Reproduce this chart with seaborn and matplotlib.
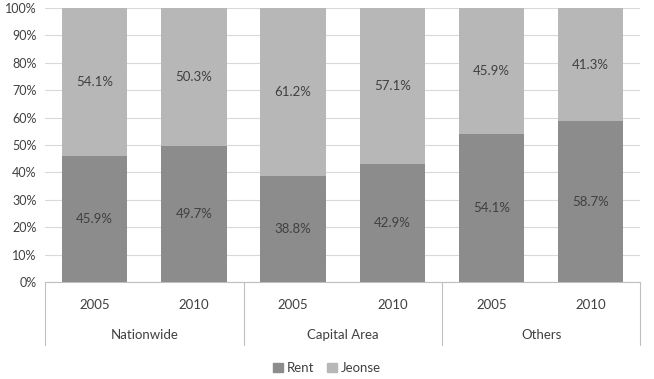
import pandas as pd
import seaborn as sb
import matplotlib.pyplot as plt
from matplotlib.patches import Patch

# data
aGroups = ["Nationwide", "Capital Area", "Others"]
aYears = ["2005", "2010"]
aRent = [45.9, 49.7, 38.8, 42.9, 54.1, 58.7]
aJeonse = [54.1, 50.3, 61.2, 57.1, 45.9, 41.3]

sRentColor = "#8c8c8c"
sJeonseColor = "#b7b7b7"
sTextColor = "#404040"

oData = pd.DataFrame({
    "group": [g for g in aGroups for _ in aYears],
    "year": aYears * len(aGroups),
    "rent": aRent,
    "jeonse": aJeonse,
})
oData["key"] = oData["group"] + " " + oData["year"]
oData["total"] = oData["rent"] + oData["jeonse"]

sb.set_style("white")
plt.rcParams["font.family"] = ["Lato", "DejaVu Sans"]

oFig = plt.figure(figsize=(6.54, 3.79), dpi=100)
oAx = oFig.add_axes([0.069, 0.256, 0.91, 0.723])

# stacked bars: full height in jeonse colour, rent drawn over it
sb.barplot(data=oData, x="key", y="total", color=sJeonseColor, width=0.66,
           saturation=1, linewidth=0, ax=oAx, zorder=2)
sb.barplot(data=oData, x="key", y="rent", color=sRentColor, width=0.66,
           saturation=1, linewidth=0, ax=oAx, zorder=3)

for i, oRow in oData.iterrows():
    oAx.text(i, oRow["rent"] / 2, f"{oRow['rent']:.1f}%", ha="center",
             va="center", fontsize=9.5, color=sTextColor, zorder=4)
    oAx.text(i, oRow["rent"] + oRow["jeonse"] / 2, f"{oRow['jeonse']:.1f}%",
             ha="center", va="center", fontsize=9.5, color=sTextColor, zorder=4)

oAx.set_ylim(0, 100)
oAx.set_xlim(-0.5, len(oData) - 0.5)
oAx.set_yticks(range(0, 101, 10))
oAx.set_yticklabels([f"{v}%" for v in range(0, 101, 10)], fontsize=9,
                    color=sTextColor)
oAx.yaxis.grid(True, color="#d9d9d9", linewidth=0.8, zorder=0)
oAx.set_axisbelow(True)
oAx.tick_params(axis="y", length=0, pad=6)
oAx.tick_params(axis="x", length=0, pad=12)
oAx.set_xticks(range(len(oData)))
oAx.set_xticklabels(oData["year"], fontsize=9.5, color=sTextColor)
oAx.set_xlabel("")
oAx.set_ylabel("")
for sSide in ["left", "right", "top"]:
    oAx.spines[sSide].set_visible(False)
oAx.spines["bottom"].set_color("#bfbfbf")

# group labels and separators below the axis
oTrans = oAx.get_xaxis_transform()
for k in range(len(aGroups) + 1):
    fX = k * len(aYears) - 0.5
    oAx.plot([fX, fX], [0, -0.23], color="#bfbfbf", linewidth=0.8,
             transform=oTrans, clip_on=False)
for k, sGroup in enumerate(aGroups):
    fX = k * len(aYears) + (len(aYears) - 1) / 2
    oAx.text(fX, -0.195, sGroup, ha="center", va="center", fontsize=9.5,
             color=sTextColor, transform=oTrans)

oHandles = [Patch(color=sRentColor, label="Rent"),
            Patch(color=sJeonseColor, label="Jeonse")]
oFig.legend(handles=oHandles, loc="center", bbox_to_anchor=(0.5, 0.028),
            ncol=2, frameon=False, fontsize=9.5, handlelength=0.7,
            handleheight=0.7, handletextpad=0.3, columnspacing=1.0,
            labelcolor=sTextColor)

oFig.savefig("out.png", dpi=100)
